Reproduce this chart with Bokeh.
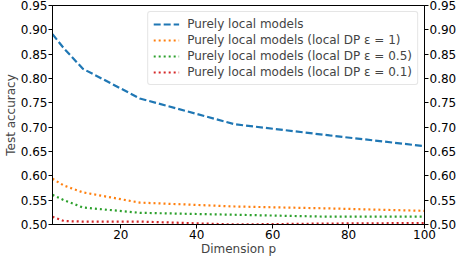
from bokeh.plotting import figure
from bokeh.models import LinearAxis, Range1d, FixedTicker, Legend, LegendItem, CustomJSTickFormatter
from bokeh.embed import file_html
from bokeh.resources import INLINE

dims = [2, 5, 10, 25, 50, 75, 100]
acc_local = [0.891, 0.862, 0.820, 0.759, 0.706, 0.683, 0.661]
acc_dp1 = [0.594, 0.580, 0.566, 0.545, 0.537, 0.533, 0.528]
acc_dp05 = [0.561, 0.550, 0.535, 0.524, 0.520, 0.516, 0.516]
acc_dp01 = [0.516, 0.507, 0.506, 0.506, 0.500, 0.502, 0.503]

labels = [
    "Purely local models",
    "Purely local models (local DP ε = 1)",
    "Purely local models (local DP ε = 0.5)",
    "Purely local models (local DP ε = 0.1)",
]
colors = ["#1f77b4", "#ff7f0e", "#2ca02c", "#d62728"]
x_ticks = [20, 40, 60, 80, 100]
y_ticks = [0.50, 0.55, 0.60, 0.65, 0.70, 0.75, 0.80, 0.85, 0.90, 0.95]

FONT = "DejaVu Sans"
FS = "12px"

p = figure(frame_width=372, frame_height=219, output_backend="svg", toolbar_location=None,
           x_range=Range1d(2, 100), y_range=Range1d(0.50, 0.95),
           min_border_left=0, min_border_right=0, min_border_top=5, min_border_bottom=0)
p.grid.visible = False
p.outline_line_color = "black"
p.outline_line_width = 1
p.background_fill_color = "white"
p.border_fill_color = "white"

renderers = []
series = [acc_local, acc_dp1, acc_dp05, acc_dp01]
for i, (vals, c) in enumerate(zip(series, colors)):
    dash = "7 3" if i == 0 else "2 3"
    r = p.line(dims, vals, line_color=c, line_width=2.2, line_dash=dash)
    renderers.append(r)

def style_axis(ax):
    ax.major_label_text_font = FONT
    ax.major_label_text_font_size = FS
    ax.major_label_text_color = "black"
    ax.axis_label_text_font = FONT
    ax.axis_label_text_font_size = FS
    ax.axis_label_text_font_style = "normal"
    ax.minor_tick_line_color = None
    ax.major_tick_out = 4
    ax.major_tick_in = 0
    ax.major_tick_line_color = "black"
    ax.axis_line_color = "black"

p.xaxis.ticker = FixedTicker(ticks=x_ticks)
p.xaxis.axis_label = "Dimension p"
p.xaxis.axis_label_standoff = 0
p.xaxis.major_label_standoff = 1
style_axis(p.xaxis[0])

fmt = CustomJSTickFormatter(code="return tick.toFixed(2);")
p.yaxis.ticker = FixedTicker(ticks=y_ticks)
p.yaxis.formatter = fmt
p.yaxis.axis_label = "Test accuracy"
p.yaxis.axis_label_standoff = 0
p.yaxis.major_label_standoff = 1
style_axis(p.yaxis[0])

right = LinearAxis(ticker=FixedTicker(ticks=y_ticks), formatter=fmt)
right.major_label_standoff = 1
style_axis(right)
p.add_layout(right, "right")

legend = Legend(items=[LegendItem(label=l, renderers=[r]) for l, r in zip(labels, renderers)],
                location="top_right")
legend.label_text_font = FONT
legend.label_text_font_size = FS
legend.label_height = 14
legend.glyph_height = 14
legend.glyph_width = 26
legend.spacing = 2
legend.padding = 5
legend.margin = 6
legend.label_standoff = 8
legend.border_line_color = "#cccccc"
legend.border_line_width = 1
legend.background_fill_alpha = 0.85
legend.border_radius = 3
p.add_layout(legend, "center")

open("out.html", "w").write(file_html(p, INLINE))
